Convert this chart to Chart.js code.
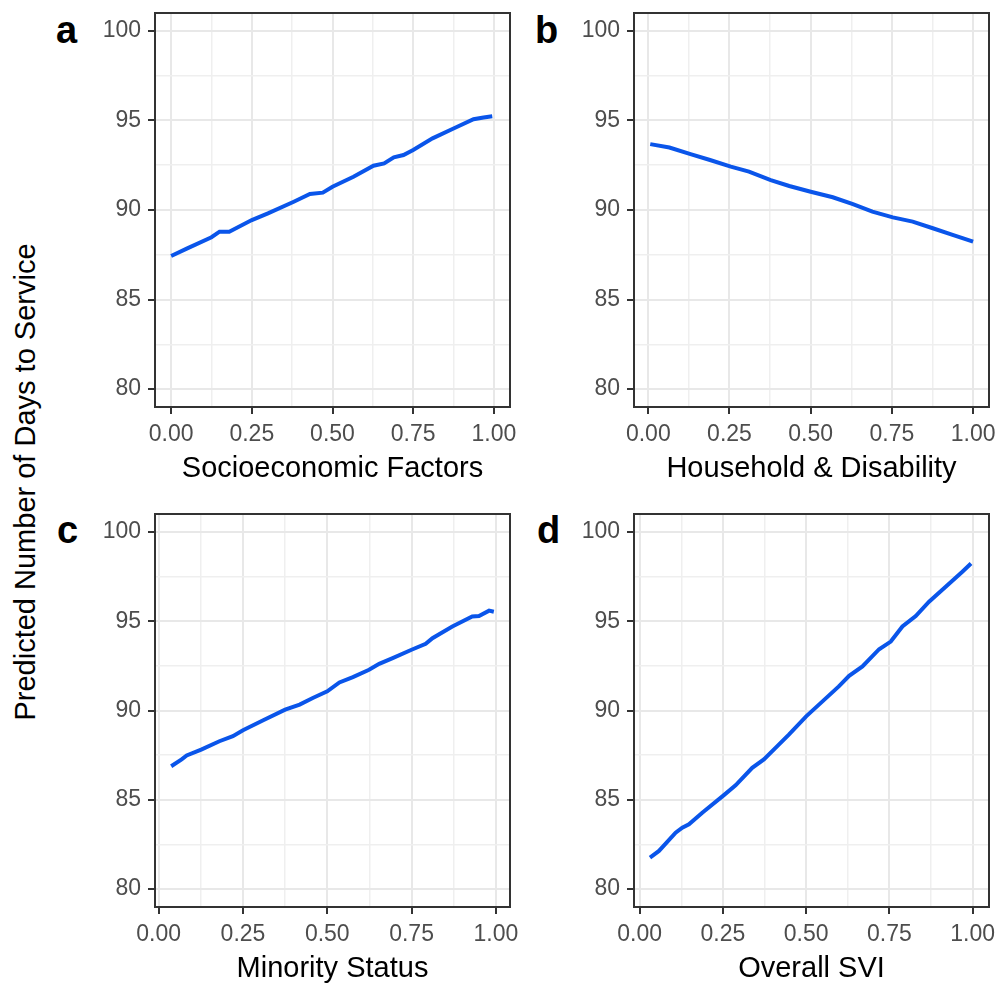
<!DOCTYPE html>
<html>
<head>
<meta charset="utf-8">
<script src="https://cdn.jsdelivr.net/npm/chart.js@4.4.1/dist/chart.umd.min.js"></script>
<style>
  html, body { margin: 0; padding: 0; background: #ffffff; overflow: hidden; }
  body { width: 996px; height: 983px; position: relative; font-family: "Liberation Sans", Arial, sans-serif; }
  .panel { position: absolute; }
  .panel canvas { display: block; }
  .plabel { position: absolute; font-weight: bold; font-size: 38px; line-height: 38px; color: #000; }
  #ytitle { position: absolute; left: 25px; top: 482px; font-size: 29px; line-height: 29px; white-space: nowrap;
            color: #000; transform: translate(-50%, -50%) rotate(-90deg); }
</style>
</head>
<body>
<div id="ytitle">Predicted Number of Days to Service</div>
<div class="plabel" style="left:56px; top:11px;">a</div>
<div class="plabel" style="left:535px; top:11px;">b</div>
<div class="plabel" style="left:57px; top:511px;">c</div>
<div class="plabel" style="left:537px; top:511px;">d</div>

<div class="panel" style="left:60px; top:0px; width:470px; height:483px;"><canvas id="cA"></canvas></div>
<div class="panel" style="left:539px; top:0px; width:457px; height:483px;"><canvas id="cB"></canvas></div>
<div class="panel" style="left:60px; top:501px; width:470px; height:482px;"><canvas id="cC"></canvas></div>
<div class="panel" style="left:539px; top:501px; width:457px; height:482px;"><canvas id="cD"></canvas></div>

<script>
// ---- Data ----
const panelTitles = ["Socioeconomic Factors", "Household & Disability", "Minority Status", "Overall SVI"];
const yAxisTitle = "Predicted Number of Days to Service";

const xMajorTicks = [0, 0.25, 0.5, 0.75, 1];
const xTickLabels = ["0.00", "0.25", "0.50", "0.75", "1.00"];
const yMajorTicks = [80, 85, 90, 95, 100];
const yTickLabels = ["80", "85", "90", "95", "100"];

// a: Socioeconomic Factors
const socioX = [0.00, 0.05, 0.125, 0.15, 0.18, 0.25, 0.30, 0.38, 0.43, 0.47, 0.50, 0.565, 0.627, 0.66, 0.69, 0.72, 0.75, 0.81, 0.875, 0.937, 0.968, 0.995];
const socioY = [87.43, 87.86, 88.48, 88.79, 88.79, 89.44, 89.81, 90.46, 90.89, 90.97, 91.30, 91.86, 92.47, 92.60, 92.94, 93.07, 93.35, 94.00, 94.55, 95.07, 95.17, 95.24];

// b: Household & Disability
const houseX = [0.006, 0.065, 0.13, 0.19, 0.254, 0.31, 0.377, 0.434, 0.50, 0.568, 0.63, 0.69, 0.753, 0.814, 0.876, 0.937, 1.00];
const houseY = [93.68, 93.49, 93.12, 92.79, 92.42, 92.14, 91.67, 91.34, 91.02, 90.71, 90.33, 89.91, 89.59, 89.35, 88.98, 88.61, 88.23];

// c: Minority Status
const minorX = [0.037, 0.068, 0.083, 0.126, 0.18, 0.22, 0.25, 0.31, 0.375, 0.418, 0.457, 0.50, 0.536, 0.576, 0.624, 0.654, 0.694, 0.75, 0.792, 0.812, 0.871, 0.93, 0.95, 0.98, 0.994];
const minorY = [86.88, 87.26, 87.48, 87.81, 88.28, 88.56, 88.89, 89.45, 90.05, 90.33, 90.70, 91.07, 91.57, 91.87, 92.28, 92.61, 92.93, 93.40, 93.73, 94.05, 94.70, 95.26, 95.29, 95.59, 95.53];

// d: Overall SVI
const sviX = [0.031, 0.058, 0.108, 0.128, 0.148, 0.188, 0.252, 0.288, 0.338, 0.373, 0.408, 0.448, 0.50, 0.549, 0.598, 0.629, 0.669, 0.719, 0.754, 0.789, 0.829, 0.869, 0.919, 0.969, 0.995];
const sviY = [81.77, 82.14, 83.16, 83.44, 83.63, 84.28, 85.25, 85.81, 86.79, 87.26, 87.91, 88.65, 89.67, 90.51, 91.35, 91.94, 92.47, 93.43, 93.86, 94.70, 95.29, 96.09, 96.93, 97.77, 98.23];

// ---- Styling ----
const FONT = '"Liberation Sans", Arial, sans-serif';
const LINE_COLOR = '#0a55ea';
const TICK_COLOR = '#4d4d4d';

function withMinor(major) {
  const out = [];
  for (let i = 0; i < major.length; i++) {
    out.push({ value: major[i] });
    if (i < major.length - 1) out.push({ value: (major[i] + major[i + 1]) / 2 });
  }
  return out;
}
function isMajor(list, v) { return list.some(m => Math.abs(m - v) < 1e-9); }
function labelFor(list, labels, v) {
  const i = list.findIndex(m => Math.abs(m - v) < 1e-9);
  return i >= 0 ? labels[i] : '';
}

const borderPlugin = {
  id: 'panelBorder',
  afterDraw(chart) {
    const a = chart.chartArea, c = chart.ctx;
    c.save();
    c.strokeStyle = '#333333';
    c.lineWidth = 2;
    c.strokeRect(a.left, a.top, a.right - a.left, a.bottom - a.top);
    c.restore();
  }
};

function makePanel(id, xs, ys, xMin, xMax, title, padRight) {
  const yAxisW = 95, xAxisH = 76;
  new Chart(document.getElementById(id), {
    type: 'line',
    data: {
      datasets: [{
        data: xs.map((x, i) => ({ x: x, y: ys[i] })),
        borderColor: LINE_COLOR,
        borderWidth: 4,
        pointRadius: 0,
        tension: 0,
        fill: false
      }]
    },
    options: {
      responsive: true,
      maintainAspectRatio: false,
      animation: false,
      layout: { padding: { top: 13, right: padRight, left: 0, bottom: 0 } },
      plugins: { legend: { display: false }, tooltip: { enabled: false } },
      scales: {
        x: {
          type: 'linear', min: xMin, max: xMax,
          afterBuildTicks: s => { s.ticks = withMinor(xMajorTicks); },
          afterFit: s => { s.height = xAxisH; s.paddingLeft = 0; s.paddingRight = 0; },
          border: { display: false },
          grid: {
            color: c => isMajor(xMajorTicks, c.tick.value) ? '#e8e8e8' : '#efefef',
            lineWidth: c => isMajor(xMajorTicks, c.tick.value) ? 2 : 1.5,
            tickColor: c => isMajor(xMajorTicks, c.tick.value) ? '#333333' : 'rgba(0,0,0,0)',
            tickWidth: 2,
            tickLength: 7
          },
          ticks: {
            autoSkip: false, maxRotation: 0, padding: 7,
            color: TICK_COLOR, font: { family: FONT, size: 23 },
            callback: v => labelFor(xMajorTicks, xTickLabels, v)
          },
          title: { display: true, text: title, color: '#000', padding: 0,
                   font: { family: FONT, size: 29, lineHeight: 1 } }
        },
        y: {
          type: 'linear', min: 79, max: 101,
          afterBuildTicks: s => { s.ticks = withMinor(yMajorTicks); },
          afterFit: s => { s.width = yAxisW; s.paddingTop = 0; s.paddingBottom = 0; },
          border: { display: false },
          grid: {
            color: c => isMajor(yMajorTicks, c.tick.value) ? '#e8e8e8' : '#efefef',
            lineWidth: c => isMajor(yMajorTicks, c.tick.value) ? 2 : 1.5,
            tickColor: c => isMajor(yMajorTicks, c.tick.value) ? '#333333' : 'rgba(0,0,0,0)',
            tickWidth: 2,
            tickLength: 7
          },
          ticks: {
            autoSkip: false, padding: 7,
            color: TICK_COLOR, font: { family: FONT, size: 23 },
            callback: v => labelFor(yMajorTicks, yTickLabels, v)
          }
        }
      }
    },
    plugins: [borderPlugin]
  });
}

makePanel('cA', socioX, socioY, -0.05, 1.05, panelTitles[0], 20);
makePanel('cB', houseX, houseY, -0.044, 1.049, panelTitles[1], 7);
makePanel('cC', minorX, minorY, -0.011, 1.042, panelTitles[2], 20);
makePanel('cD', sviX, sviY, -0.017, 1.049, panelTitles[3], 7);
</script>
</body>
</html>
